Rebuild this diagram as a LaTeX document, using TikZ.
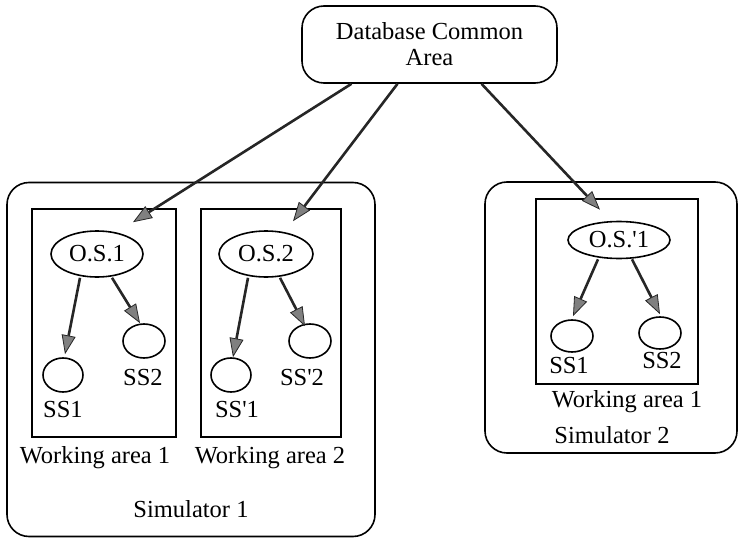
\documentclass[tikz,border=0pt]{standalone}
\usepackage{fontspec}
\setmainfont{Liberation Serif}
\usetikzlibrary{arrows.meta,shapes.geometric}
\newcommand{\pr}{\textquotesingle}
\begin{document}
\begin{tikzpicture}[x=1pt,y=-1pt,
  every node/.style={font=\fontsize{24.5}{26}\selectfont, inner sep=0pt},
  roundbox/.style={draw, line width=1.6pt, rounded corners=22pt},
  areabox/.style={draw, line width=2.2pt},
  osnode/.style={draw, ellipse, line width=1.6pt},
  ssnode/.style={draw, ellipse, line width=1.6pt},
  lbl/.style={anchor=base},
  arr/.style={line width=2.6pt, draw=black!85,
    -{Triangle[length=19pt,width=14pt,fill=gray,line width=0.8pt]}}]
\useasboundingbox (0,0) rectangle (740,538);

% common database
\node[roundbox, minimum width=255pt, minimum height=77pt, align=center]
  (db) at (429.5,44.5) {Database Common\\Area};

% simulator frames
\node[roundbox, minimum width=368pt, minimum height=354pt] (sim1) at (191,359.5) {};
\node[roundbox, minimum width=252pt, minimum height=271pt] (sim2) at (611,317.5) {};

% working areas
\node[areabox, minimum width=144pt, minimum height=228pt] (wa1) at (104,323) {};
\node[areabox, minimum width=140pt, minimum height=228pt] (wa2) at (271,323) {};
\node[areabox, minimum width=162pt, minimum height=185pt] (wa3) at (617,291.5) {};

% operating systems
\node[osnode, minimum width=92pt, minimum height=46pt] (os1) at (97,254) {O.S.1};
\node[osnode, minimum width=94pt, minimum height=46pt] (os2) at (266,254) {O.S.2};
\node[osnode, minimum width=102pt, minimum height=37pt] (os3) at (619,240) {O.S.\pr1};

% subsystems
\node[ssnode, minimum width=40pt, minimum height=34pt] (ss11) at (63,375) {};
\node[ssnode, minimum width=42pt, minimum height=34pt] (ss12) at (144,341) {};
\node[ssnode, minimum width=40pt, minimum height=34pt] (ss21) at (231,375) {};
\node[ssnode, minimum width=42pt, minimum height=34pt] (ss22) at (310,341) {};
\node[ssnode, minimum width=42pt, minimum height=32pt] (ss31) at (572,336) {};
\node[ssnode, minimum width=42pt, minimum height=32pt] (ss32) at (660,333) {};

% labels
\node[lbl] (lss11) at (63,417) {SS1};
\node[lbl] (lss12) at (143,385) {SS2};
\node[lbl] (lss21) at (237,417) {SS\pr1};
\node[lbl] (lss22) at (302,385) {SS\pr2};
\node[lbl] (lss31) at (569,373) {SS1};
\node[lbl] (lss32) at (662,368) {SS2};
\node[lbl] (lwa1) at (95,463) {Working area 1};
\node[lbl] (lwa2) at (270,463) {Working area 2};
\node[lbl] (lwa3) at (627,407) {Working area 1};
\node[lbl] (lsim1) at (191,517) {Simulator 1};
\node[lbl] (lsim2) at (612,443) {Simulator 2};

% links from the common area
\draw[arr] ([xshift=-78pt]db.south) -- ([xshift=36pt,yshift=8pt]os1.north);
\draw[arr] ([xshift=-32pt]db.south) -- ([xshift=27pt,yshift=9pt]os2.north);
\draw[arr] ([xshift=52pt]db.south) -- ([xshift=-19pt,yshift=11pt]os3.north);

% links to subsystems
\draw[arr] ([xshift=-17pt]os1.south) -- ([xshift=2pt,yshift=3pt]ss11.north);
\draw[arr] ([xshift=15pt]os1.south) -- ([xshift=-4pt]ss12.north);
\draw[arr] ([xshift=-18pt]os2.south) -- ([xshift=2pt]ss21.north);
\draw[arr] ([xshift=14pt]os2.south) -- ([xshift=-5pt,yshift=-3pt]ss22.north);
\draw[arr] ([xshift=-21pt]os3.south) -- ([xshift=1pt,yshift=3pt]ss31.north);
\draw[arr] ([xshift=13pt]os3.south) -- ([yshift=2pt]ss32.north);
\end{tikzpicture}
\end{document}
